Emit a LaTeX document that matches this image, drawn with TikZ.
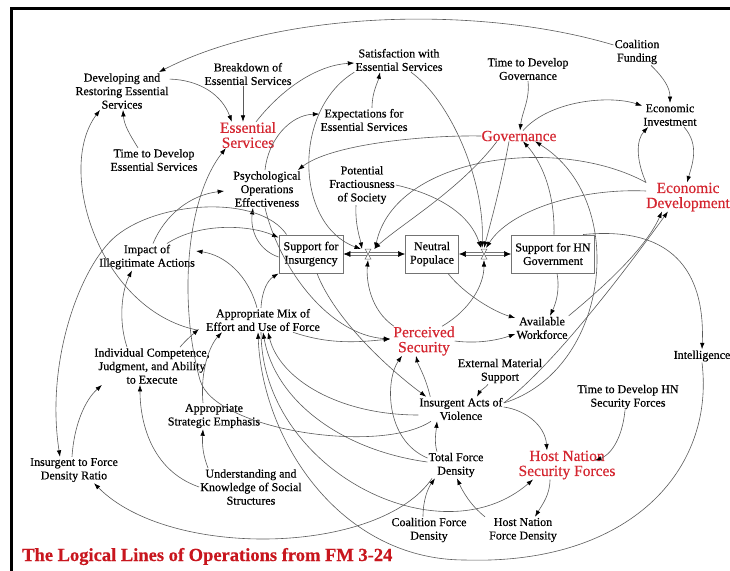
\documentclass[tikz,border=0pt]{standalone}
\usepackage{fontspec}
\setmainfont{Liberation Serif}[FakeBold=0.45]
\usetikzlibrary{arrows.meta}
\definecolor{hubred}{RGB}{212,38,48}
\definecolor{titlered}{RGB}{200,22,30}
\definecolor{wire}{RGB}{90,90,90}

\begin{document}
\begin{tikzpicture}[x=1pt,y=-1pt,
  lbl/.style={align=center, inner sep=1pt, font=\fontsize{12}{13.5}\selectfont},
  hub/.style={align=center, inner sep=0pt, text=hubred, font=\fontsize{15.5}{15}\selectfont},
  stock/.style={lbl, draw=black!55, line width=0.9pt, minimum height=38pt, inner sep=2pt},
  lnk/.style={draw=wire, line width=0.6pt, -{Latex[length=6.5pt,width=4.5pt,color=black]}},
  flowpipe/.style={draw=black!55, line width=0.5pt, double=white, double distance=2.2pt,
    -{Latex[length=7pt,width=6pt,color=black]}},
  valvesym/.style={draw=black!60, fill=white, line width=0.5pt}]

\useasboundingbox (0,0) rectangle (730,570);

% frame
\draw[line width=3pt] (11.5,572) -- (11.5,8.5) -- (732,8.5);

% variables
\node[lbl] (cf) at (637,52) {Coalition\\Funding};
\node[lbl] (sat) at (399,60) {Satisfaction with\\Essential Services};
\node[lbl] (tdg) at (528,69) {Time to Develop\\Governance};
\node[lbl] (brk) at (248,74) {Breakdown of\\Essential Services};
\node[lbl] (dev) at (122,91) {Developing and\\Restoring Essential\\Services};
\node[hub] (es) at (248,135) {Essential\\Services};
\node[lbl] (tde) at (154,160) {Time to Develop\\Essential Services};
\node[lbl] (exp) at (364,120) {Expectations for\\Essential Services};
\node[hub] (gov) at (519,136) {Governance};
\node[lbl] (ei) at (670,115) {Economic\\Investment};
\node[hub] (ed) at (688,197) {Economic\\Development};
\node[lbl] (pso) at (267,189) {Psychological\\Operations\\Effectiveness};
\node[lbl] (pf) at (362,185) {Potential\\Fractiousness\\of Society};
\node[stock, minimum width=64pt] (sfi) at (311,254) {Support for\\Insurgency};
\node[stock, minimum width=53pt] (np) at (432,254) {Neutral\\Populace};
\node[stock, minimum width=83pt] (sfh) at (553,254) {Support for HN\\Government};
\node[lbl] (iia) at (147,257) {Impact of\\Illegitimate Actions};
\node[lbl] (am) at (263,320) {Appropriate Mix of\\Effort and Use of Force};
\node[lbl] (ic) at (152,366) {Individual Competence,\\Judgment, and Ability\\to Execute};
\node[hub] (ps) at (424,341) {Perceived\\Security};
\node[lbl] (aw) at (542,328) {Available\\Workforce};
\node[lbl] (intel) at (702,356) {Intelligence};
\node[lbl] (ems) at (500,371) {External Material\\Support};
\node[lbl] (iav) at (461,409) {Insurgent Acts of\\Violence};
\node[lbl] (tdh) at (628,397) {Time to Develop HN\\Security Forces};
\node[lbl] (ase) at (214,416) {Appropriate\\Strategic Emphasis};
\node[lbl] (ifd) at (74,470) {Insurgent to Force\\Density Ratio};
\node[lbl] (uk) at (251,487) {Understanding and\\Knowledge of Social\\Structures};
\node[lbl] (tfd) at (456,465) {Total Force\\Density};
\node[hub] (hns) at (567,465) {Host Nation\\Security Forces};
\node[lbl] (cfd) at (429,530) {Coalition Force\\Density};
\node[lbl] (hfd) at (523,530) {Host Nation\\Force Density};

\node[anchor=base west, inner sep=0pt, text=titlered, font=\bfseries\fontsize{18.5}{20}\selectfont]
  (title) at (22,561) {The Logical Lines of Operations from FM 3-24};

% valves on the flows between the three stocks
\coordinate (lv) at (368,254);
\coordinate (rv) at (484,254);

% essential services, governance and economy
\draw[lnk] (cf) .. controls (480,5) and (280,10) .. (dev);
\draw[lnk] ([xshift=14pt]cf.south) .. controls (664,78) and (670,88) .. (ei.north);
\draw[lnk] (tdg.south) .. controls (530,100) and (522,112) .. ([xshift=1pt]gov.north);
\draw[lnk] ([xshift=4pt]gov.north) .. controls (550,100) and (610,95) .. (ei);
\draw[lnk] ([xshift=14pt]ei.south) .. controls (700,145) and (692,165) .. ([xshift=-1pt]ed.north);
\draw[lnk] (ed.north west) .. controls (636,160) and (636,140) .. ([xshift=6pt]ei.south west);
\draw[lnk] ([yshift=-7pt]dev.north east) .. controls (200,80) and (222,95) .. ([xshift=12pt]es.north west);
\draw[lnk] ([xshift=-5pt]brk.south) -- ([xshift=-5pt]es.north);
\draw[lnk] ([xshift=-16pt]tde.north) .. controls (130,135) and (124,125) .. ([xshift=1pt]dev.south);
\draw[lnk] ([xshift=8pt]es.north) .. controls (285,85) and (320,65) .. ([yshift=-3pt]sat.west);
\draw[lnk] ([xshift=8pt]exp.north) .. controls (372,92) and (378,82) .. ([xshift=-19pt]sat.south);
\draw[lnk] ([xshift=-2pt]pso.north) .. controls (268,140) and (290,115) .. ([yshift=6pt]exp.west);
\draw[lnk] (gov.west) .. controls (420,135) and (330,145) .. ([xshift=-4pt]pso.north east);

% links into the valves
\draw[lnk] (sat.south west) .. controls (292,110) and (295,225) .. ([xshift=-7pt,yshift=5pt]lv);
\draw[lnk] ([xshift=12pt]sat.south) .. controls (450,100) and (485,180) .. ([xshift=-2pt,yshift=6pt]rv);
\draw[lnk] ([xshift=-6pt]pf.south) .. controls (355,225) and (360,238) .. ([xshift=-6pt,yshift=5pt]lv);
\draw[lnk] (pf.east) .. controls (440,195) and (470,215) .. ([xshift=-3pt,yshift=6pt]rv);
\draw[lnk] ([xshift=-22pt]gov.south) .. controls (460,190) and (400,225) .. ([xshift=6pt,yshift=5pt]lv);
\draw[lnk] ([xshift=-10pt]gov.south) .. controls (500,190) and (490,225) .. ([yshift=6pt]rv);
\draw[lnk] (ed.north west) .. controls (560,135) and (395,155) .. ([xshift=7pt,yshift=5pt]lv);
\draw[lnk] ([yshift=6pt]ed.west) .. controls (580,188) and (510,210) .. ([xshift=2pt,yshift=6pt]rv);
\draw[lnk] ([xshift=-30pt]ps.north) .. controls (370,310) and (366,280) .. ([yshift=-6pt]lv);
\draw[lnk] ([xshift=18pt]ps.north) .. controls (470,310) and (484,285) .. ([yshift=-6pt]rv);

% right half
\draw[lnk] ([xshift=1pt]sfh.north) .. controls (555,190) and (540,160) .. ([xshift=4pt]gov.south);
\draw[lnk] ([yshift=6pt]iav.east) .. controls (610,370) and (630,200) .. ([xshift=16pt]gov.south);
\draw[lnk] ([yshift=6pt]iav.east) .. controls (560,360) and (640,250) .. ([xshift=-20pt]ed.south);
\draw[lnk] ([xshift=4pt]sfh.south) .. controls (560,290) and (556,303) .. ([xshift=8pt]aw.north);
\draw[lnk] ([xshift=16pt]np.south) .. controls (465,295) and (495,312) .. ([yshift=10pt]aw.west);
\draw[lnk] (ps.east) .. controls (478,344) and (498,340) .. ([yshift=-6pt]aw.west);
\draw[lnk] (aw.north east) .. controls (600,290) and (645,250) .. ([xshift=-26pt]ed.south);
\draw[lnk] ([xshift=30pt]sfh.north) .. controls (680,225) and (705,280) .. (intel.north);
\draw[lnk] (intel.south) .. controls (715,470) and (630,565) .. (465,560)
  .. controls (340,560) and (262,440) .. ([xshift=-5pt]am.south);

% force, violence and security
\draw[lnk] ([yshift=-6pt]iav.west) .. controls (340,415) and (280,380) .. ([xshift=5pt]am.south);
\draw[lnk] ([yshift=3pt]tfd.west) .. controls (340,450) and (275,400) .. (am.south);
\draw[lnk] ([xshift=-2pt]am.south) .. controls (262,470) and (440,560) .. ([xshift=-34pt]hns.south);
\draw[lnk] ([yshift=-3pt]sfi.west) .. controls (258,250) and (250,230) .. ([xshift=-14pt]pso.south);
\draw[lnk] ([xshift=-2pt]pso.south) .. controls (280,270) and (330,335) .. ([xshift=-3pt,yshift=2pt]ps.west);
\draw[lnk] ([xshift=30pt]am.south) .. controls (330,345) and (360,342) .. ([xshift=-3pt,yshift=2pt]ps.west);
\draw[lnk] ([xshift=20pt]iia.north) .. controls (200,222) and (250,225) .. ([yshift=-3pt]sfi.north west);
\draw[lnk] ([xshift=6pt]iia.north) .. controls (165,215) and (190,195) .. ([xshift=-8pt,yshift=-2pt]pso.west);
\draw[lnk] ([xshift=-6pt]am.north) .. controls (248,275) and (225,255) .. ([yshift=6pt]iia.east);
\draw[lnk] ([xshift=-2pt]am.north) .. controls (262,290) and (268,280) .. (sfi.south west);
\draw[lnk] ([xshift=-25pt]ic.north) .. controls (118,320) and (122,290) .. ([xshift=-15pt]iia.south);
\draw[lnk] ([xshift=-2pt]ifd.north) .. controls (74,425) and (85,400) .. ([xshift=-50pt]ic.south);
\draw[lnk] ([xshift=8pt]sfi.north west) .. controls (260,195) and (160,200) .. (116,236)
  .. controls (81,265) and (45,360) .. ([xshift=-14pt]ifd.north);
\draw[lnk] (uk.west) .. controls (150,470) and (140,420) .. ([xshift=-12pt]ic.south);
\draw[lnk] ([xshift=-43pt]uk.north) .. controls (203,455) and (202,445) .. ([xshift=-11pt]ase.south);
\draw[lnk] ([xshift=-11pt]ase.north) .. controls (200,370) and (210,345) .. ([xshift=-41pt]am.south);
\draw[lnk] ([xshift=28pt]ic.north) .. controls (186,340) and (192,335) .. ([xshift=-6pt,yshift=-9pt]am.west);
\draw[lnk] ([xshift=-8pt,yshift=-10pt]am.west) .. controls (100,310) and (55,170) .. ([xshift=-22pt]dev.south);
\draw[lnk] ([xshift=-30pt]iav.south) .. controls (380,455) and (214,430) .. (200,380)
  .. controls (179,305) and (185,200) .. ([xshift=6pt]es.south west);
\draw[lnk] ([xshift=6pt]sfi.south) .. controls (335,320) and (390,370) .. ([xshift=8pt]iav.north west);
\draw[lnk] ([xshift=-12pt]ems.south) .. controls (485,388) and (480,391) .. ([xshift=16pt]iav.north);
\draw[lnk] ([yshift=2pt]iav.east) .. controls (525,410) and (545,425) .. ([xshift=-20pt]hns.north);
\draw[lnk] ([xshift=-19pt]tfd.north) .. controls (434,442) and (436,432) .. ([xshift=-24pt]iav.south);
\draw[lnk] ([yshift=7pt]tfd.west) .. controls (385,440) and (385,380) .. ([xshift=-22pt]ps.south);
\draw[lnk] ([xshift=12pt]iav.north west) .. controls (425,375) and (418,365) .. ([xshift=-8pt]ps.south);
\draw[lnk] ([xshift=-17pt]hns.south) .. controls (550,495) and (542,505) .. ([xshift=12pt]hfd.north);
\draw[lnk] ([xshift=-3pt]tdh.south) .. controls (622,440) and (610,455) .. ([xshift=28pt,yshift=-10pt]hns.north);
\draw[lnk] ([xshift=-38pt]hfd.north) .. controls (470,505) and (462,490) .. ([xshift=1pt]tfd.south);
\draw[lnk] ([xshift=-6pt]cfd.north) .. controls (423,500) and (428,488) .. ([xshift=-21pt]tfd.south);
\draw[lnk] ([xshift=-24pt]tfd.south) .. controls (380,555) and (170,560) .. ([xshift=20pt]ifd.south);

% flows between the stocks
\draw[flowpipe] (lv) -- (sfi.east);
\draw[flowpipe] (lv) -- (np.west);
\draw[flowpipe] (rv) -- (np.east);
\draw[flowpipe] (rv) -- (sfh.west);
\draw[valvesym] ([xshift=-3pt,yshift=5pt]lv) -- ([xshift=3pt,yshift=5pt]lv)
  -- ([xshift=-3pt,yshift=-5pt]lv) -- ([xshift=3pt,yshift=-5pt]lv) -- cycle;
\draw[valvesym] ([xshift=-3pt,yshift=5pt]rv) -- ([xshift=3pt,yshift=5pt]rv)
  -- ([xshift=-3pt,yshift=-5pt]rv) -- ([xshift=3pt,yshift=-5pt]rv) -- cycle;
\end{tikzpicture}
\end{document}
